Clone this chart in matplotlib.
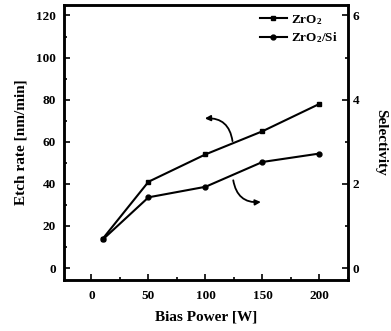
import matplotlib
matplotlib.use("Agg")
import matplotlib.pyplot as plt
from matplotlib.ticker import MultipleLocator

plt.rcParams['font.family'] = ['Liberation Serif', 'DejaVu Serif']
plt.rcParams['font.weight'] = 'bold'
plt.rcParams['mathtext.fontset'] = 'custom'
plt.rcParams['mathtext.rm'] = 'Liberation Serif:bold'
plt.rcParams['mathtext.it'] = 'Liberation Serif:bold'

bias_power = [10, 50, 100, 150, 200]
etch_rate = [14, 41, 54, 65, 78]
selectivity = [0.68, 1.68, 1.93, 2.52, 2.72]

x_ticks = [0, 50, 100, 150, 200]
y_ticks = [0, 20, 40, 60, 80, 100, 120]
sel_ticks = [0, 2, 4, 6]

fig = plt.figure(figsize=(3.91, 3.31), dpi=100)
ax = fig.add_axes([0.164, 0.154, 0.726, 0.831])
ax2 = ax.twinx()

l1, = ax.plot(bias_power, etch_rate, color='black', lw=1.5, marker='s', ms=3.5, label='ZrO$_2$')
l2, = ax2.plot(bias_power, selectivity, color='black', lw=1.5, marker='o', ms=3.5, label='ZrO$_2$/Si')

ax.set_xlim(-24, 225)
ax.set_ylim(-5.7, 125)
ax2.set_ylim(-5.7 / 20, 125 / 20)
ax.set_xticks(x_ticks)
ax.set_yticks(y_ticks)
ax2.set_yticks(sel_ticks)
ax.xaxis.set_minor_locator(MultipleLocator(25))
ax.yaxis.set_minor_locator(MultipleLocator(10))
ax2.yaxis.set_minor_locator(MultipleLocator(1))

for a in (ax, ax2):
    a.tick_params(which='both', direction='in', labelsize=9.5, width=1.2)
    a.tick_params(which='major', length=4)
    a.tick_params(which='minor', length=2.5)
    for s in a.spines.values():
        s.set_linewidth(1.8)
ax.tick_params(axis='y', pad=6)
ax.tick_params(axis='x', pad=7)

ax.set_xlabel('Bias Power [W]', fontsize=11, fontweight='bold', labelpad=6)
ax.set_ylabel('Etch rate [nm/min]', fontsize=11, fontweight='bold', labelpad=6)
ax2.set_ylabel('Selectivity', fontsize=11, fontweight='bold', rotation=270, labelpad=20)

ax.annotate('', xy=(97, 71), xytext=(124, 59),
            arrowprops=dict(arrowstyle='-|>', color='black', lw=1.3,
                            connectionstyle='arc3,rad=0.5', mutation_scale=8))
ax.annotate('', xy=(151, 31.5), xytext=(124, 43),
            arrowprops=dict(arrowstyle='-|>', color='black', lw=1.3,
                            connectionstyle='arc3,rad=0.5', mutation_scale=8))

ax.legend([l1, l2], ['ZrO$_2$', 'ZrO$_2$/Si'], loc='upper right', frameon=False,
          fontsize=9.5, handlelength=2.0, handletextpad=0.3, labelspacing=0.3,
          borderaxespad=0.2, bbox_to_anchor=(0.99, 1.0))

fig.savefig('out.png', dpi=100)
